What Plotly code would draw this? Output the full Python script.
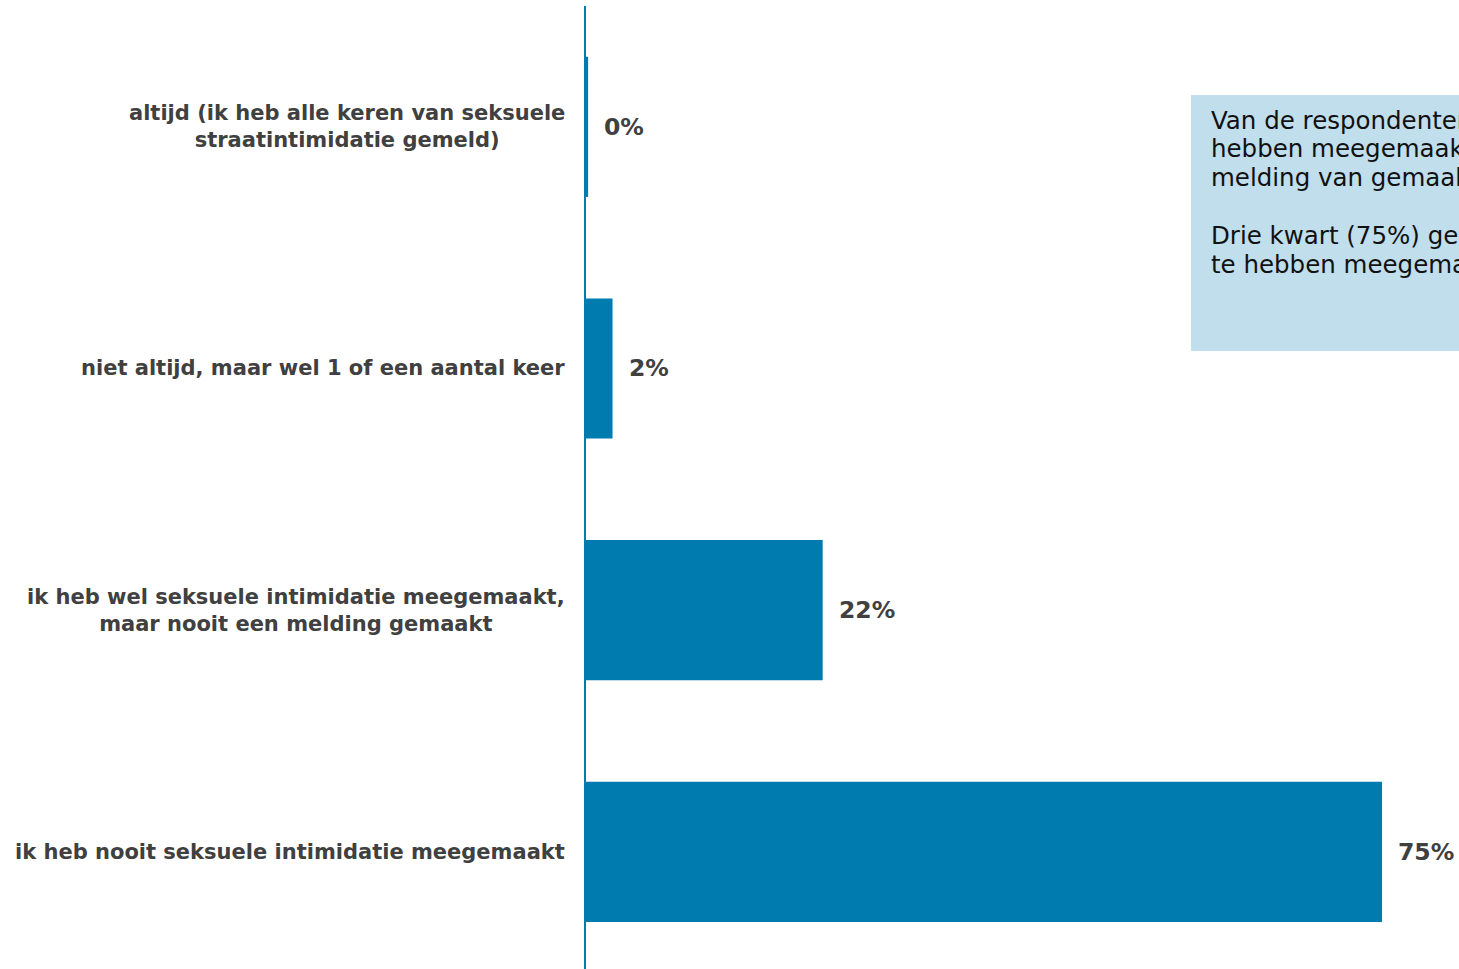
import plotly.graph_objects as go

categories = [
    "altijd (ik heb alle keren van seksuele<br>straatintimidatie gemeld)",
    "niet altijd, maar wel 1 of een aantal keer",
    "ik heb wel seksuele intimidatie meegemaakt,<br>maar nooit een melding gemaakt",
    "ik heb nooit seksuele intimidatie meegemaakt",
]
values = [0.2, 2.5, 22.3, 75.0]
value_labels = ["0%", "2%", "22%", "75%"]
box_lines = [
    "Van de respondenten die seksuele intimidatie",
    "hebben meegemaakt, heeft 2% daar ooit een",
    "melding van gemaakt.",
    "",
    "Drie kwart (75%) geeft aan nooit seksuele intimidatie",
    "te hebben meegemaakt.",
]

W, H = 1459, 969
ML, MT, MB, MR = 586, 6, 0, 0
BAR = "#007BB0"
LABEL = "#404040"

idx = list(range(len(categories)))

fig = go.Figure()
fig.add_trace(go.Bar(
    x=values, y=idx, orientation="h",
    marker=dict(color=BAR, line=dict(width=0)),
    width=0.58, hoverinfo="skip",
))

pw = W - ML - MR
ph = H - MT - MB

def px_x(p):
    return (p - ML) / pw

def px_y(p):
    return (H - MB - p) / ph

annotations = []
for i, c in enumerate(categories):
    annotations.append(dict(
        x=0, xref="paper", y=i, yref="y", text=c, showarrow=False,
        xanchor="right", yanchor="middle", align="center", xshift=-19,
        font=dict(family="DejaVu Sans", size=21, color=LABEL, weight="bold"),
    ))
for v, lab, i in zip(values, value_labels, idx):
    annotations.append(dict(
        x=v, xref="x", y=i, yref="y", text=lab, showarrow=False,
        xanchor="left", yanchor="middle", xshift=14,
        font=dict(family="DejaVu Sans", size=23.5, color=LABEL, weight="bold"),
    ))
for k, line in enumerate(box_lines):
    if not line:
        continue
    annotations.append(dict(
        x=px_x(1209), xref="paper", y=px_y(120 + 28.8 * k), yref="paper", text=line,
        showarrow=False, xanchor="left", yanchor="middle", align="left",
        font=dict(family="DejaVu Sans", size=24.5, color="#111111"),
    ))

fig.update_layout(
    width=W, height=H,
    margin=dict(l=ML, r=MR, t=MT, b=MB, pad=0),
    paper_bgcolor="white", plot_bgcolor="white",
    showlegend=False,
    xaxis=dict(range=[0, pw / (796 / 75.0)], visible=False, showgrid=False, zeroline=False),
    yaxis=dict(range=[3.485, -0.5], showticklabels=False, showgrid=False, zeroline=False,
               showline=True, linecolor=BAR, linewidth=2, ticks=""),
    annotations=annotations,
    shapes=[dict(type="rect", xref="paper", yref="paper",
                 x0=px_x(1191), x1=px_x(1700), y0=px_y(351), y1=px_y(95),
                 fillcolor="#C0DEEC", line=dict(width=0), layer="below")],
)

fig.write_html(
    "out.html",
    config={"displayModeBar": False},
    post_script="document.body.style.margin='0';document.body.style.overflow='hidden';",
)
